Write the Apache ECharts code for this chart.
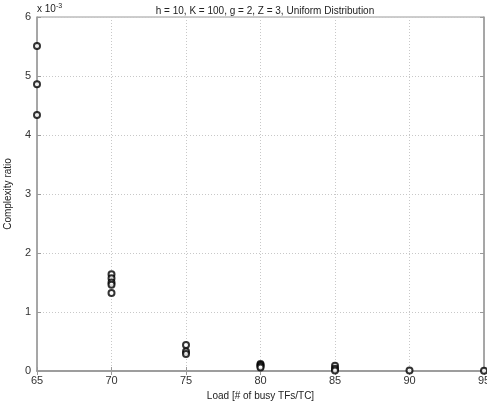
<!DOCTYPE html>
<html>
<head>
<meta charset="UTF-8">
<title>Complexity ratio</title>
<script src="https://cdn.jsdelivr.net/npm/echarts@6/dist/echarts.min.js"></script>
<style>
  html, body { margin: 0; padding: 0; background: #fff; }
  #chart { width: 487px; height: 406px; }
</style>
</head>
<body>
<div id="chart"></div>
<script>
// load values (x) and complexity ratio in units of 1e-3 (y)
var loads = [65, 65, 65, 70, 70, 70, 70, 70, 75, 75, 75, 80, 80, 80, 80, 85, 85, 85, 90, 95];
var ratios = [5.51, 4.86, 4.34, 1.64, 1.57, 1.50, 1.46, 1.32, 0.44, 0.33, 0.29, 0.12, 0.10, 0.08, 0.06, 0.09, 0.04, 0.01, 0.01, 0.005];
var xTicks = [65, 70, 75, 80, 85, 90, 95];
var yTicks = [0, 1, 2, 3, 4, 5, 6];

var titleText = 'h = 10, K = 100, g = 2, Z = 3, Uniform Distribution';
var font = 'Liberation Sans, Arial, sans-serif';
var axisGray = '#9a9a9a';

var points = loads.map(function (x, i) { return [x, ratios[i]]; });

var chart = echarts.init(document.getElementById('chart'));

var option = {
    backgroundColor: '#fff',
    animation: false,
    textStyle: { fontFamily: font },
    title: {
        text: titleText,
        left: 260,
        textAlign: 'center',
        top: 1,
        textStyle: { fontSize: 10, fontWeight: 'normal', color: '#222', fontFamily: font }
    },
    grid: {
        left: 37, right: 3, top: 17, bottom: 35,
        outerBoundsMode: 'none',
        containLabel: false,
        show: true, borderColor: axisGray, borderWidth: 1
    },
    xAxis: [{
        type: 'value',
        min: xTicks[0], max: xTicks[xTicks.length - 1], interval: 5,
        name: 'Load [# of busy TFs/TC]',
        nameLocation: 'middle', nameGap: 18,
        nameTextStyle: { fontSize: 10, color: '#222' },
        axisLine: { show: true, lineStyle: { color: axisGray, width: 1.5 } },
        axisTick: { show: true, inside: true, length: 4, lineStyle: { color: axisGray } },
        axisLabel: { fontSize: 11, color: '#333', margin: 4 },
        splitLine: { show: true, lineStyle: { color: '#c8c8c8', type: [1, 2], width: 1 } }
    }, {
        type: 'value', position: 'top',
        min: xTicks[0], max: xTicks[xTicks.length - 1], interval: 5,
        axisLine: { show: true, lineStyle: { color: axisGray, width: 1.5 } },
        axisTick: { show: true, inside: true, length: 4, lineStyle: { color: axisGray } },
        axisLabel: { show: false },
        splitLine: { show: false }
    }],
    yAxis: [{
        type: 'value',
        min: yTicks[0], max: yTicks[yTicks.length - 1], interval: 1,
        name: 'Complexity ratio',
        nameLocation: 'middle', nameGap: 24, nameRotate: 90,
        nameTextStyle: { fontSize: 10, color: '#222' },
        axisLine: { show: true, lineStyle: { color: axisGray, width: 1.5 } },
        axisTick: { show: true, inside: true, length: 4, lineStyle: { color: axisGray } },
        axisLabel: { fontSize: 11, color: '#333', margin: 6 },
        splitLine: { show: true, lineStyle: { color: '#c8c8c8', type: [1, 2], width: 1 } }
    }, {
        type: 'value', position: 'right',
        min: yTicks[0], max: yTicks[yTicks.length - 1], interval: 1,
        axisLine: { show: true, lineStyle: { color: axisGray, width: 1.5 } },
        axisTick: { show: true, inside: true, length: 4, lineStyle: { color: axisGray } },
        axisLabel: { show: false },
        splitLine: { show: false }
    }],
    graphic: [{
        type: 'text',
        left: 37, top: 3,
        style: {
            text: 'x 10{s|-3}',
            rich: { s: { fontSize: 7, verticalAlign: 'top', padding: [0, 0, 6, 0] } },
            fontSize: 10, fill: '#222', fontFamily: font
        }
    }],
    series: [{
        type: 'scatter',
        data: points,
        clip: false,
        symbol: 'circle',
        symbolSize: 6,
        itemStyle: { color: '#fff', borderColor: '#000', borderWidth: 2 }
    }]
};

chart.setOption(option);
</script>
</body>
</html>
